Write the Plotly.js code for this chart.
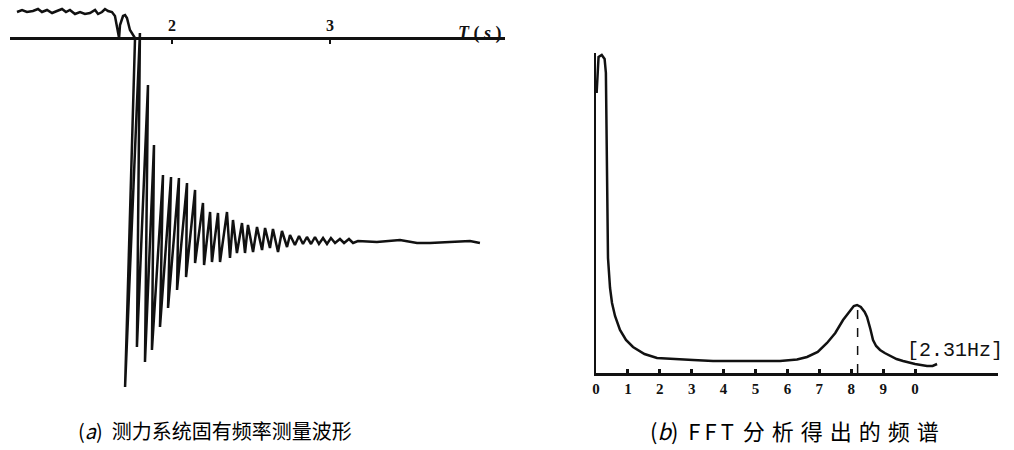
<!DOCTYPE html>
<html>
<head>
<meta charset="utf-8">
<script src="https://cdn.plot.ly/plotly-3.0.1.min.js"></script>
<style>html,body{margin:0;padding:0;background:#fff;}#chart{width:1014px;height:450px;}</style>
</head>
<body>
<div id="chart"></div>
<script>
// (a) waveform: time in seconds, amplitude (arbitrary units, 0 = baseline)
const timeS = [1.019,1.051,1.082,1.120,1.152,1.177,1.209,1.241,1.272,1.304,1.329,1.354,1.386,1.418,1.449,1.481,1.513,1.532,1.557,1.576,1.595,1.620,1.639,
  1.658,1.665,1.671,1.690,1.703,1.715,1.734,1.753,1.766,
  1.703,1.797,1.778,1.848,1.829,1.886,1.873,1.943,1.924,1.994,1.975,2.044,2.032,2.095,2.089,2.146,2.146,2.196,2.203,2.241,2.253,2.291,2.304,
  2.348,2.367,2.386,2.411,2.443,2.462,2.481,2.513,2.538,2.570,2.589,2.620,2.639,2.671,2.696,2.728,2.747,2.778,2.804,2.829,2.854,2.880,2.905,
  2.930,2.956,2.981,3.006,3.032,3.063,3.089,3.120,3.146,3.177,3.297,3.443,3.551,3.633,3.759,3.886,3.949];
const forceAmp = [26,28,26,27,29,26,28,25,27,29,26,28,24,26,24,25,28,24,26,29,27,26,22,
  5,0,13,22,23,20,8,3,0,
  -349,5,-309,-47,-324,-107,-312,-137,-289,-139,-270,-140,-252,-145,-239,-152,-225,-165,-227,-174,-224,-175,-224,
  -174,-220,-182,-215,-185,-215,-187,-214,-189,-212,-190,-210,-191,-214,-193,-209,-197,-207,-198,-206,-199,-206,-199,
  -206,-200,-206,-200,-205,-201,-205,-201,-205,-203,-204,-202,-205,-205,-204,-203,-205];
const timeTicks = [2, 3];
const timeTickText = ['2', '3'];

// (b) FFT spectrum: frequency scale units, amplitude (arbitrary units)
const freqUnits = [0.02,0.08,0.18,0.27,0.31,0.345,0.376,0.44,0.502,0.596,0.752,0.940,1.160,1.520,1.912,3.041,3.668,5.768,6.300,6.614,6.950,7.241,7.500,7.743,7.950,8.080,8.182,8.300,8.420,8.495,8.600,8.683,8.780,8.903,9.050,9.216,9.420,9.624,10.000,10.376,10.550,10.690];
const specAmp   = [280,316,318,314,300,200,115,85,70,57,43,33,26,19,15,13,12,12,13.5,16,21,30,40,53,62,67,68,66,61,56,44,33,27,23,20,17,14,12,9,7,7,9];
const peakFreq = 8.2;
const peakAmp = 68;
const freqTicks = [0,1,2,3,4,5,6,7,8,9,10];
const freqTickText = ['0','1','2','3','4','5','6','7','8','9','0'];
const peakLabel = '[2.31Hz]';

const ink = '#111111';
const serif = 'Liberation Serif, DejaVu Serif, serif';
const cjk = 'Noto Sans CJK SC, Noto Sans, sans-serif';

const traces = [
  {x: timeS, y: forceAmp, xaxis: 'x', yaxis: 'y', type: 'scatter', mode: 'lines',
   line: {color: ink, width: 2.5}, hoverinfo: 'skip'},
  {x: freqUnits, y: specAmp, xaxis: 'x2', yaxis: 'y2', type: 'scatter', mode: 'lines',
   line: {color: ink, width: 2.5}, hoverinfo: 'skip'},
  {x: [peakFreq, peakFreq], y: [0, peakAmp], xaxis: 'x2', yaxis: 'y2', type: 'scatter', mode: 'lines',
   line: {color: ink, width: 1.5, dash: 'dash'}, hoverinfo: 'skip'}
];

const layout = {
  width: 1014, height: 450,
  margin: {l: 0, r: 0, t: 0, b: 0},
  paper_bgcolor: '#ffffff', plot_bgcolor: 'rgba(0,0,0,0)',
  showlegend: false,
  xaxis: {domain: [10/1014, 505/1014], range: [0.9747, 4.1076], anchor: 'free', position: (450-38)/450,
    side: 'top', showline: true, linecolor: ink, linewidth: 2.5, ticks: 'inside', ticklen: 4, tickwidth: 2,
    tickcolor: ink, tickvals: timeTicks, ticktext: timeTickText,
    tickfont: {family: serif, size: 16, color: ink, weight: 'bold'},
    showgrid: false, zeroline: false, fixedrange: true},
  yaxis: {domain: [55/450, 1], range: [-357, 38], visible: false, fixedrange: true},
  xaxis2: {domain: [596/1014, 998/1014], range: [0, 12.6], anchor: 'y2',
    showline: true, linecolor: ink, linewidth: 2.5, ticks: 'inside', ticklen: 4, tickwidth: 3, tickcolor: ink,
    tickvals: freqTicks, ticktext: freqTickText,
    tickfont: {family: serif, size: 15, color: ink, weight: 'bold'},
    showgrid: false, zeroline: false, fixedrange: true},
  yaxis2: {domain: [(450-373)/450, (450-53)/450], range: [0, 320], anchor: 'x2',
    showline: true, linecolor: ink, linewidth: 2, ticks: '', showticklabels: false,
    showgrid: false, zeroline: false, fixedrange: true},
  annotations: [
    {text: '<b><i>T</i> ( <i>s</i> )</b>', xref: 'paper', yref: 'paper', x: 480/1014, y: (450-33)/450,
     xanchor: 'center', yanchor: 'middle', showarrow: false, font: {family: serif, size: 18, color: ink}},
    {text: peakLabel, xref: 'paper', yref: 'paper', x: 955/1014, y: (450-350)/450,
     xanchor: 'center', yanchor: 'middle', showarrow: false, font: {family: 'Liberation Mono, DejaVu Sans Mono, monospace', size: 20, color: ink}},
    {text: '(<i>a</i>)  测力系统固有频率测量波形', xref: 'paper', yref: 'paper', x: 76/1014, y: (450-430)/450,
     xanchor: 'left', yanchor: 'middle', showarrow: false, font: {family: cjk, size: 20, color: '#000'}},
    {text: '(<i>b</i>)  <span style="letter-spacing:4px">FFT</span> <span style="letter-spacing:7px">分析得出的频谱</span>',
     xref: 'paper', yref: 'paper', x: 648/1014, y: (450-430)/450,
     xanchor: 'left', yanchor: 'middle', showarrow: false, font: {family: cjk, size: 22, color: '#000'}}
  ]
};

Plotly.newPlot('chart', traces, layout, {staticPlot: true, displayModeBar: false});
</script>
</body>
</html>
